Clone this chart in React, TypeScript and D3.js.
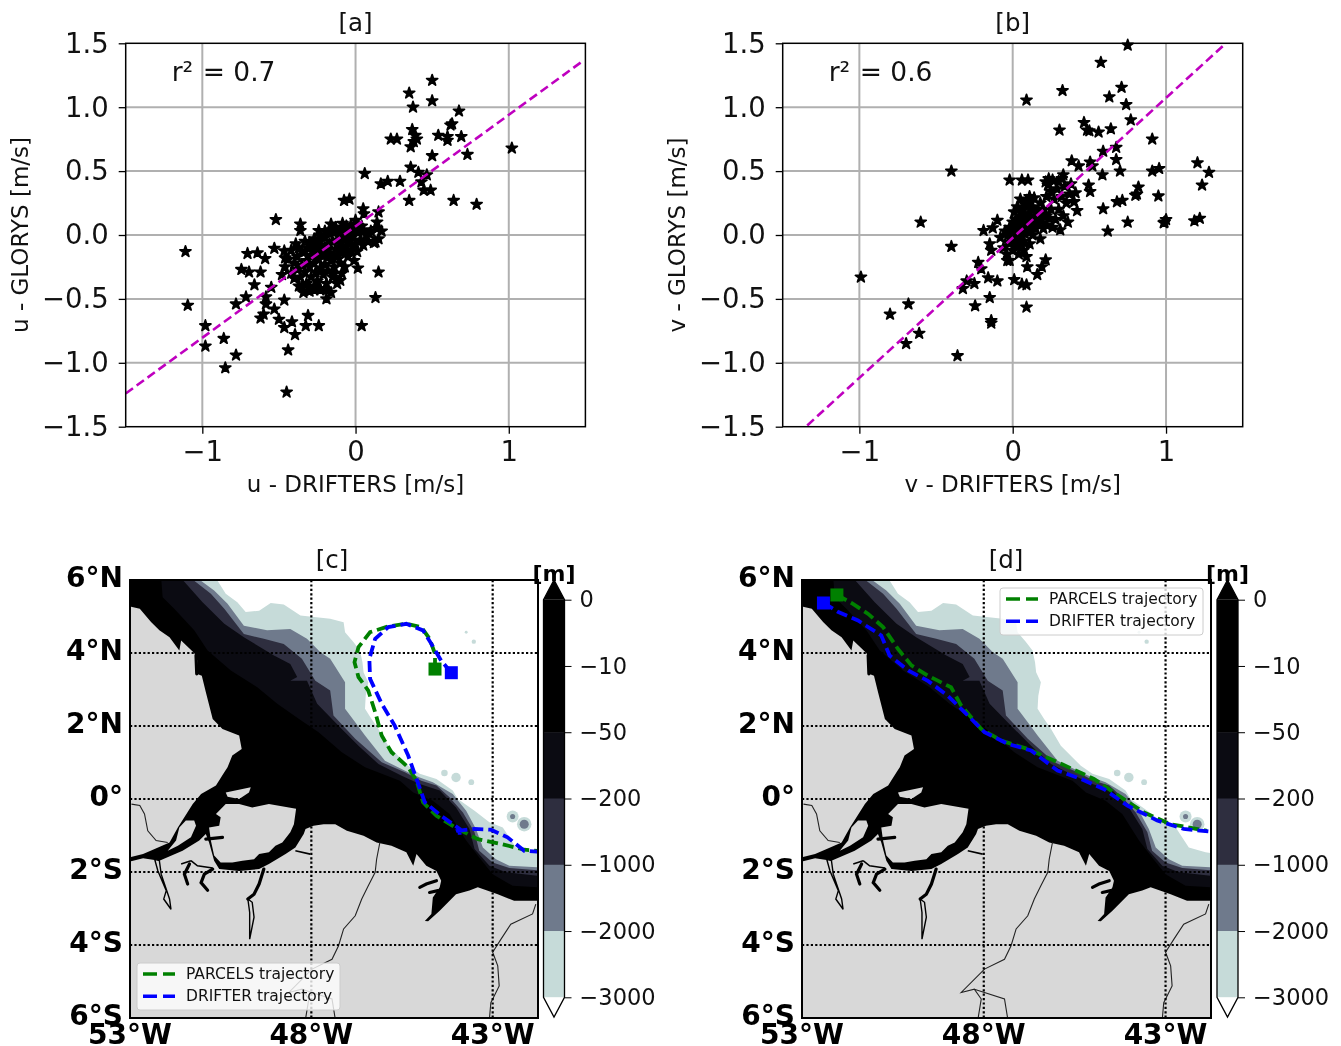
import { useEffect, useRef } from "react";
import * as d3 from "d3";

type Pt = [number, number];

// scatter values: [drifter, glorys] in m/s
const uPoints: Pt[] = [
  [-1.11,-0.13],[-1.095,-0.55],[-0.98,-0.71],[-0.98,-0.87],[-0.86,-0.81],[-0.78,-0.94],[-0.85,-1.04],[-0.45,-1.23],[-0.44,-0.9],[-0.78,-0.54],
  [0.04,-0.71],[0.13,-0.49],[0.15,-0.29],[0.015,-0.26],[-0.52,0.12],[-0.24,-0.71],[-0.31,-0.63],[-0.325,-0.71],[-0.395,-0.78],[-0.415,-0.68],
  [-0.465,-0.725],[-0.5,-0.66],[-0.62,-0.65],[-0.6,-0.62],[-0.53,-0.58],[-0.585,-0.54],[-0.585,-0.485],[-0.465,-0.51],[-0.715,-0.485],[-0.66,-0.39],
  [-0.62,-0.29],[-0.745,-0.27],[-0.695,-0.29],[-0.705,-0.145],[-0.64,-0.14],[-0.59,-0.185],[-0.53,-0.105],[-0.465,-0.125],[-0.36,0.085],[-0.36,0.035],
  [-0.39,-0.07],[-0.55,-0.41],[0.5,1.21],[0.35,1.11],[0.5,1.05],[0.375,1.0],[0.675,0.97],[0.63,0.87],[0.62,0.86],[0.37,0.825],
  [0.39,0.78],[0.4,0.75],[0.38,0.73],[0.36,0.69],[0.23,0.75],[0.27,0.75],[0.54,0.78],[0.6,0.77],[0.6,0.74],[0.69,0.77],
  [0.5,0.62],[0.73,0.63],[1.02,0.68],[0.36,0.53],[0.41,0.49],[0.465,0.47],[0.43,0.415],[0.445,0.35],[0.49,0.35],[0.35,0.27],
  [0.64,0.27],[0.79,0.24],[0.06,0.48],[0.165,0.4],[0.21,0.42],[0.29,0.42],[-0.075,0.27],[-0.04,0.28],[0.05,0.205],[0.055,0.165],
  [0.15,0.18],[0.14,0.1],[0.14,0.05],[0.17,0.03],[0.13,-0.055],[0.15,-0.03],[0,0.115],[-0.085,0.09],[-0.16,0.085],[-0.24,0.035],
  [-0.46,-0.25],[-0.48,-0.31],[-0.44,-0.19],[-0.42,-0.3],[-0.4,-0.22],[-0.4,-0.34],[-0.38,-0.27],[-0.38,-0.17],[-0.37,-0.4],[-0.36,-0.33],
  [-0.35,-0.24],[-0.35,-0.13],[-0.34,-0.45],[-0.33,-0.29],[-0.32,-0.2],[-0.32,-0.38],[-0.31,-0.1],[-0.3,-0.25],[-0.3,-0.42],[-0.29,-0.33],
  [-0.29,-0.16],[-0.28,-0.07],[-0.27,-0.22],[-0.27,-0.4],[-0.26,-0.29],[-0.25,-0.12],[-0.25,-0.36],[-0.24,-0.19],[-0.24,-0.04],[-0.23,-0.26],
  [-0.23,-0.42],[-0.22,-0.1],[-0.21,-0.31],[-0.21,-0.16],[-0.2,-0.02],[-0.2,-0.23],[-0.19,-0.38],[-0.18,-0.08],[-0.18,-0.28],[-0.17,-0.14],
  [-0.17,0.01],[-0.16,-0.2],[-0.16,-0.45],[-0.15,-0.33],[-0.15,-0.05],[-0.14,-0.25],[-0.13,-0.11],[-0.13,0.03],[-0.12,-0.17],[-0.12,-0.38],
  [-0.11,-0.01],[-0.1,-0.22],[-0.1,-0.07],[-0.09,-0.3],[-0.09,0.06],[-0.08,-0.13],[-0.07,-0.02],[-0.07,-0.25],[-0.06,-0.09],[-0.05,0.04],
  [-0.05,-0.17],[-0.04,-0.05],[-0.03,0.08],[-0.03,-0.12],[-0.02,0],[-0.01,-0.2],[0,-0.07],[0,0.04],[0.01,-0.13],[0.02,0.02],
  [0.03,-0.04],[0.04,0.07],[0.05,-0.08],[0.07,0],[0.08,-0.05],[0.1,0.03],[0.12,-0.06],[-0.27,-0.43],[-0.23,-0.43],[-0.19,-0.43],
  [-0.19,-0.5],[-0.1,-0.355],[-0.14,-0.3],[-0.3,-0.44],[-0.35,-0.4],
  [-0.33,-0.05],[-0.3,-0.06],[-0.27,-0.03],[-0.23,-0.01],[-0.2,0.03],[-0.16,0.04],[-0.13,0.06],[-0.09,0.03],[-0.06,0.07],[-0.02,0.05],
  [0.02,0.07],[0.05,0.04],[0.09,0.01],[-0.28,-0.13],[-0.24,-0.09],[-0.2,-0.1],[-0.17,-0.07],[-0.12,-0.04],[-0.09,-0.1],[-0.06,-0.03],
  [-0.03,-0.01],[-0.26,-0.18],[-0.22,-0.16],[-0.18,-0.17],[-0.14,-0.16],[-0.11,-0.12],[-0.07,-0.15],[-0.33,-0.13],[-0.37,-0.1],[-0.42,-0.12],[-0.46,-0.18],
];

const vPoints: Pt[] = [
  [-0.99,-0.33],[-0.8,-0.62],[-0.68,-0.54],[-0.61,-0.77],[-0.695,-0.85],[-0.36,-0.945],[-0.6,0.1],[-0.4,0.5],[-0.4,-0.09],[0.09,1.055],
  [0.325,1.13],[0.575,1.35],[0.75,1.485],[0.71,1.155],[0.63,1.08],[0.74,1.02],[0.77,0.9],[0.305,0.82],[0.465,0.88],[0.485,0.82],
  [0.5,0.815],[0.56,0.805],[0.64,0.83],[0.91,0.75],[0.59,0.655],[0.675,0.685],[0.675,0.59],[0.385,0.58],[0.43,0.54],[0.505,0.57],
  [0.52,0.54],[0.585,0.47],[0.7,0.5],[0.91,0.5],[0.955,0.52],[1.205,0.565],[1.28,0.49],[1.235,0.39],[1.185,0.11],[1.22,0.13],
  [0.99,0.1],[1.0,0.12],[0.985,0.095],[0.95,0.305],[0.82,0.375],[0.81,0.32],[0.8,0.31],[0.68,0.26],[0.715,0.27],[0.59,0.205],
  [0.75,0.1],[0.62,0.03],[0.495,0.39],[0.505,0.34],[0.42,0.19],[0.41,0.33],[0.33,0.47],[0.235,0.44],[0.215,0.415],[-0.02,0.43],
  [0.06,0.43],[0.1,0.43],[-0.1,0.115],[-0.19,0.035],[-0.13,0.055],[-0.15,-0.07],[-0.14,-0.12],[-0.225,-0.215],[-0.205,-0.265],[-0.16,-0.335],
  [-0.1,-0.36],[-0.25,-0.38],[-0.3,-0.36],[-0.325,-0.42],[-0.15,-0.49],[-0.245,-0.555],[-0.14,-0.67],[-0.14,-0.69],[0.01,-0.35],[0.06,-0.385],
  [0.09,-0.39],[0.09,-0.565],[0.16,-0.31],[0.19,-0.25],[0.215,-0.195],[0.095,-0.25],[-0.035,-0.2],
  [-0.08,-0.02],[-0.06,-0.1],[-0.05,0.03],[-0.04,-0.15],[-0.03,-0.06],[-0.02,0.06],[-0.02,-0.2],[-0.01,-0.03],[0,0.1],[0,-0.12],
  [0.01,0.02],[0.01,0.18],[0.02,-0.07],[0.03,0.07],[0.03,0.22],[0.04,-0.15],[0.04,0],[0.05,0.13],[0.05,0.28],[0.06,-0.05],
  [0.06,0.05],[0.07,0.2],[0.07,-0.12],[0.08,0.1],[0.08,0.01],[0.09,0.27],[0.09,-0.17],[0.1,0.15],[0.1,0.05],[0.11,0.3],
  [0.11,-0.07],[0.12,0.09],[0.12,0.2],[0.13,0],[0.14,0.13],[0.14,0.29],[0.15,0.05],[0.16,0.18],[0.17,0.09],[0.18,-0.03],
  [0.18,0.25],[0.19,0.12],[0.2,0.05],[0.21,0.16],[0.22,0.3],[0.22,0.08],[0.23,0.39],[0.24,0.13],[0.25,0.2],[0.26,0.43],
  [0.26,0.06],[0.27,0.28],[0.28,0.12],[0.29,0.36],[0.3,0.2],[0.31,0.04],[0.32,0.44],[0.32,0.3],[0.33,0.15],[0.34,0.38],
  [0.35,0.25],[0.36,0.1],[0.37,0.32],[0.38,0.4],[0.3,0.42],[0.4,0.26],[0.25,0.34],
  [0.02,0.03],[0.04,0.09],[0.06,0.12],[0.08,0.16],[0.1,0.1],[0.12,0.14],[0.14,0.08],[0.16,0.12],[0.18,0.16],[0.2,0.2],
  [0.22,0.15],[0.03,-0.03],[0.06,0],[0.09,0.04],[0.11,0.02],[0.13,0.06],[0.15,0.1],[0.0,0.02],[-0.03,0],[0.01,-0.05],
  [0.04,-0.09],[0.07,-0.05],[0.02,0.12],[0.05,0.18],[0.08,0.24],[0.11,0.25],[0.13,0.22],
];

const uFit: Pt[] = [[-1.5,-1.24],[1.47,1.35]];
const vFit: Pt[] = [[-1.34,-1.49],[1.39,1.5]];

const scatterTicksX = [-1, 0, 1];
const scatterTicksY = [-1.5, -1, -0.5, 0, 0.5, 1, 1.5];

// bathymetry contours, lon/lat, each one closed round the south west corner
const contour3000: Pt[] = [[-50.63,6.05],[-50.36,5.62],[-50.04,5.39],[-49.81,5.12],[-49.44,5.16],[-49.12,5.37],[-48.76,5.33],[-48.30,5.03],[-47.48,4.94],[-47.11,4.84],[-47.07,4.57],[-46.84,4.30],[-46.66,4.07],[-46.59,3.75],[-46.56,3.47],[-46.43,3.20],[-46.50,2.83],[-46.52,2.47],[-46.34,2.19],[-46.15,1.92],[-45.88,1.46],[-45.33,0.91],[-45.01,0.69],[-44.55,0.55],[-44.10,0.23],[-43.96,0],[-43.5,-0.32],[-43.09,-0.64],[-42.72,-0.78],[-42.36,-1.33],[-41.90,-1.46],[-41.77,-1.48],[-41.6,-1.5]];
const contour2000: Pt[] = [[-51.14,6.05],[-50.68,5.71],[-50.31,5.35],[-49.86,4.75],[-49.22,4.62],[-48.58,4.66],[-48.12,4.39],[-47.75,4.02],[-47.48,3.84],[-47.07,3.20],[-47.07,2.47],[-46.79,2.10],[-46.52,1.74],[-45.97,1.05],[-45.33,0.73],[-45.01,0.59],[-44.65,0.46],[-44.10,0.14],[-43.73,-0.32],[-43.46,-0.82],[-43.27,-1.33],[-42.91,-1.65],[-42.54,-1.83],[-41.77,-1.87],[-41.6,-1.88]];
const contour1000: Pt[] = [[-51.32,6.05],[-50.77,5.62],[-50.40,5.21],[-49.86,4.52],[-49.31,4.39],[-48.76,4.25],[-48.26,3.84],[-47.89,3.24],[-47.48,2.97],[-47.39,2.29],[-46.79,1.65],[-46.06,1.01],[-45.42,0.73],[-44.97,0.50],[-44.55,0.37],[-44.19,0.05],[-43.82,-0.37],[-43.50,-0.91],[-43.37,-1.42],[-43.0,-1.74],[-42.54,-1.89],[-41.77,-1.95],[-41.6,-1.96]];
const contour200: Pt[] = [[-51.59,6.05],[-51.0,5.39],[-50.40,4.80],[-49.86,4.43],[-49.03,3.93],[-48.58,3.70],[-48.39,3.34],[-48.58,3.24],[-48.12,3.24],[-47.84,2.61],[-47.25,2.01],[-46.70,1.46],[-46.15,0.96],[-45.51,0.64],[-45.01,0.41],[-44.46,0.23],[-44.01,-0.23],[-43.64,-0.82],[-43.50,-1.37],[-43.09,-1.83],[-42.63,-2.01],[-41.77,-2.10],[-41.6,-2.12]];
const contour50: Pt[] = [[-52.14,6.05],[-52.10,5.53],[-51.78,5.21],[-51.23,4.62],[-50.86,4.07],[-50.22,3.52],[-49.49,3.06],[-48.94,2.61],[-48.35,2.20],[-47.80,1.83],[-47.16,1.28],[-46.52,0.87],[-45.56,0.50],[-45.19,0.18],[-44.65,-0.05],[-44.19,-0.41],[-43.73,-1.14],[-43.37,-1.60],[-43.0,-2.06],[-42.45,-2.38],[-41.77,-2.42],[-41.6,-2.44]];
const contourCorners: Pt[] = [[-41.6,-6.1],[-53.1,-6.1],[-53.1,6.05]];

// isolated seamounts: lon, lat, radius in degrees
const shallowBlobs = [[-44.33,0.71,0.09],[-44.01,0.59,0.13],[-43.59,0.46,0.08],[-42.45,-0.48,0.165],[-42.13,-0.69,0.2],[-43.73,4.57,0.04],[-43.52,4.31,0.06]];
const deepBlobs = [[-42.45,-0.48,0.07],[-42.13,-0.69,0.125]];

const landNorth: Pt[] = [[-53.1,5.30],[-52.73,5.21],[-52.42,4.85],[-52.19,4.62],[-51.91,4.43],[-51.64,4.07],[-51.59,4.34],[-51.23,4.0],[-51.14,3.79],[-51.16,3.43],[-51.02,3.38],[-50.91,2.93],[-50.72,2.19],[-50.45,1.92],[-49.99,1.74],[-49.92,1.37],[-50.18,1.19],[-50.31,0.87],[-50.40,0.73],[-50.63,0.37],[-51.04,0.14],[-51.27,-0.14],[-51.68,-0.78],[-51.91,-1.19],[-52.32,-1.37],[-52.64,-1.51],[-53.1,-1.62]];
const landMarajo: Pt[] = [[-50.63,-0.41],[-50.36,-0.14],[-49.99,-0.14],[-49.63,-0.23],[-49.17,-0.14],[-48.42,-0.27],[-48.48,-0.69],[-48.58,-0.91],[-48.80,-1.19],[-48.99,-1.28],[-49.17,-1.46],[-49.44,-1.51],[-49.58,-1.65],[-49.90,-1.69],[-50.18,-1.74],[-50.50,-1.74],[-50.68,-1.55],[-50.77,-1.14],[-50.82,-0.78],[-50.54,-0.73],[-50.50,-0.50]];
const landIsle: Pt[] = [[-50.36,0.18],[-49.67,0.32],[-49.72,0.18],[-49.99,0],[-50.31,0.06]];
const landSliver: Pt[] = [[-51.23,-0.59],[-51.18,-0.73],[-51.32,-1.05],[-51.68,-1.28],[-51.96,-1.42],[-51.73,-1.14],[-51.64,-0.78],[-51.46,-0.59]];
const landSouth: Pt[] = [[-53.1,-1.74],[-52.64,-1.62],[-52.19,-1.69],[-51.55,-1.42],[-51.09,-1.14],[-50.91,-0.96],[-50.82,-1.19],[-50.68,-1.69],[-50.54,-1.92],[-49.99,-1.97],[-49.44,-1.92],[-49.17,-1.78],[-48.71,-1.51],[-48.44,-1.33],[-48.21,-0.96],[-48.16,-0.82],[-47.94,-0.73],[-47.66,-0.69],[-47.34,-0.69],[-47.02,-0.87],[-46.56,-1.01],[-46.20,-1.19],[-45.79,-1.28],[-45.38,-1.46],[-45.19,-1.83],[-45.10,-1.51],[-44.83,-1.83],[-44.55,-1.97],[-44.42,-2.24],[-44.46,-2.42],[-44.65,-2.70],[-44.69,-3.15],[-44.87,-3.34],[-44.78,-3.35],[-44.46,-3.06],[-44.01,-2.61],[-43.64,-2.51],[-43.41,-2.42],[-42.86,-2.61],[-42.41,-2.79],[-41.6,-2.79],[-41.6,-6.1],[-53.1,-6.1]];

// rivers
const riverThick: Pt[][] = [
  [[-51.18,3.93],[-51.16,3.43]],
  [[-50.91,-1.10],[-50.45,-1.05]],
  [[-51.36,-1.78],[-51.50,-2.06],[-51.41,-2.33]],
  [[-50.72,-1.92],[-50.95,-2.06],[-51.04,-2.29],[-50.86,-2.50]],
  [[-49.31,-1.92],[-49.44,-2.33],[-49.58,-2.61],[-49.75,-2.74]],
  [[-45.01,-2.42],[-44.83,-2.33],[-44.55,-2.24]],
  [[-44.74,-2.56],[-44.51,-2.51]],
];
const riverThin: Pt[][] = [
  [[-48.44,-1.42],[-48.03,-1.51]],
  [[-51.59,-1.78],[-51.32,-1.69]],
  [[-51.32,-1.69],[-51.14,-1.83],[-50.72,-1.89]],
];
const riverTocantins: Pt[] = [[-49.75,-2.74],[-49.70,-3.11],[-49.70,-3.84],[-49.58,-3.24],[-49.63,-2.83]];
const riverXingu: Pt[] = [[-52.32,-1.65],[-52.23,-1.97],[-52.0,-2.51],[-52.07,-2.74],[-51.87,-3.02],[-51.91,-2.74],[-52.14,-2.06],[-52.19,-1.69]];

const borders: Pt[][] = [
  [[-52.96,-0.14],[-52.73,-0.18],[-52.60,-0.41],[-52.51,-0.87],[-52.28,-1.14],[-51.96,-1.19]],
  [[-46.11,-1.19],[-46.20,-1.65],[-46.24,-2.01],[-46.43,-2.38],[-46.61,-2.74],[-46.79,-3.20],[-47.11,-3.56],[-47.25,-4.02],[-47.43,-4.39],[-47.98,-4.66],[-48.62,-5.30],[-48.26,-5.21],[-48.07,-5.48],[-48.16,-6.03]],
  [[-48.26,-5.21],[-47.43,-5.48],[-47.34,-6.03]],
  [[-41.81,-2.88],[-41.90,-3.15],[-42.50,-3.43],[-42.77,-3.84],[-43.0,-4.20],[-42.86,-4.57],[-42.82,-5.12],[-43.05,-5.58],[-43.09,-6.03]],
];

// trajectories in lon/lat, first point is the release position
const parcelsC: Pt[] = [[-44.59,3.56],[-44.59,3.98],[-44.74,4.39],[-44.97,4.71],[-45.38,4.80],[-45.88,4.73],[-46.38,4.57],[-46.70,4.16],[-46.81,3.75],[-46.70,3.34],[-46.43,2.97],[-46.24,2.38],[-46.06,1.74],[-45.79,1.28],[-45.33,0.87],[-45.10,0.50],[-44.92,-0.09],[-44.55,-0.46],[-43.96,-0.82],[-43.41,-1.10],[-42.77,-1.23],[-42.13,-1.39],[-41.77,-1.42]];
const drifterC: Pt[] = [[-44.14,3.46],[-44.42,3.79],[-44.69,4.25],[-44.92,4.62],[-45.38,4.80],[-45.88,4.71],[-46.24,4.39],[-46.40,3.84],[-46.38,3.29],[-46.06,2.61],[-45.70,2.01],[-45.33,1.19],[-45.10,0.55],[-44.87,-0.09],[-44.42,-0.46],[-43.91,-0.82],[-43.91,-1.01],[-43.96,-0.87],[-43.50,-0.82],[-43.05,-0.84],[-42.59,-1.05],[-42.13,-1.42],[-41.77,-1.44]];
const parcelsD: Pt[] = [[-52.04,5.59],[-51.64,5.37],[-51.18,5.07],[-50.77,4.71],[-50.36,4.11],[-49.99,3.66],[-49.54,3.38],[-48.90,3.06],[-48.62,2.56],[-48.07,1.92],[-47.52,1.60],[-46.79,1.37],[-46.06,1.05],[-44.97,0.55],[-44.23,0.05],[-43.59,-0.37],[-42.86,-0.69],[-41.86,-0.87]];
const drifterD: Pt[] = [[-52.41,5.37],[-52.0,5.12],[-51.46,4.89],[-50.82,4.48],[-50.59,3.93],[-50.08,3.52],[-49.54,3.24],[-48.99,2.83],[-48.53,2.38],[-47.98,1.83],[-47.34,1.51],[-46.70,1.33],[-45.97,0.78],[-45.33,0.55],[-44.69,0.27],[-44.05,-0.18],[-43.23,-0.59],[-42.50,-0.82],[-41.81,-0.89]];

const latTicks = [6, 4, 2, 0, -2, -4, -6];
const latLabels = ["6°N", "4°N", "2°N", "0°", "2°S", "4°S", "6°S"];
const lonTicks = [-53, -48, -43];
const lonLabels = ["53°W", "48°W", "43°W"];
const depthLabels = ["0", "−10", "−50", "−200", "−1000", "−2000", "−3000"];
const depthColors = ["#000000", "#000000", "#0b0b12", "#2e2e3f", "#6f7a8c", "#c6dbd9"];

const FONT = "DejaVu Sans";
const minus = (s: string) => s.replace("-", "−");

function drawScatter(svg: any, o: any) {
  const x = d3.scaleLinear().domain([-1.5, 1.5]).range(o.xRange);
  const y = d3.scaleLinear().domain([-1.5, 1.5]).range([426.7, 43.3]);
  const g = svg.append("g").attr("font-family", FONT);

  // grid
  g.selectAll(".gx").data(scatterTicksX).join("line")
    .attr("x1", (d: number) => x(d)).attr("x2", (d: number) => x(d))
    .attr("y1", y(-1.5)).attr("y2", y(1.5))
    .attr("stroke", "#b0b0b0").attr("stroke-width", 2);
  g.selectAll(".gy").data(scatterTicksY.slice(1, -1)).join("line")
    .attr("class", "gy")
    .attr("x1", o.xRange[0]).attr("x2", o.xRange[1])
    .attr("y1", (d: number) => y(d)).attr("y2", (d: number) => y(d))
    .attr("stroke", "#b0b0b0").attr("stroke-width", 2);

  const star = d3.symbol().type(d3.symbolStar).size(38);
  g.selectAll(".pt").data(o.points).join("path")
    .attr("class", "pt")
    .attr("d", star)
    .attr("transform", (d: Pt) => `translate(${x(d[0])},${y(d[1])})`)
    .attr("fill", "#000").attr("stroke", "#000").attr("stroke-width", 1.7).attr("stroke-linejoin", "round");

  const fit = d3.line<Pt>().x((d) => x(d[0])).y((d) => y(d[1]));
  g.append("path").attr("d", fit(o.fit))
    .attr("fill", "none").attr("stroke", "#bf00bf")
    .attr("stroke-width", 2.6).attr("stroke-dasharray", "9,4.5");

  g.append("rect").attr("x", o.xRange[0]).attr("y", y(1.5))
    .attr("width", o.xRange[1] - o.xRange[0]).attr("height", y(-1.5) - y(1.5))
    .attr("fill", "none").attr("stroke", "#000").attr("stroke-width", 1.5);

  const ax = g.append("g").attr("transform", `translate(0,${y(-1.5)})`)
    .call(d3.axisBottom(x).tickValues(scatterTicksX).tickSize(7).tickPadding(8).tickFormat((d: any) => minus(String(d))));
  const ay = g.append("g").attr("transform", `translate(${o.xRange[0]},0)`)
    .call(d3.axisLeft(y).tickValues(scatterTicksY).tickSize(7).tickPadding(10).tickFormat((d: any) => minus(d3.format(".1f")(d))));
  [ax, ay].forEach((a: any) => {
    a.select(".domain").remove();
    a.attr("font-family", FONT).attr("font-size", 27.5);
    a.selectAll(".tick line").attr("stroke-width", 1.3);
    a.selectAll("text").attr("fill", "#111");
  });

  const midX = (o.xRange[0] + o.xRange[1]) / 2;
  g.append("text").attr("x", midX).attr("y", 31).attr("text-anchor", "middle").attr("font-size", 24.5).attr("fill", "#111").text(o.title);
  g.append("text").attr("x", midX).attr("y", 492).attr("text-anchor", "middle").attr("font-size", 23).attr("fill", "#111").text(o.xLabel);
  g.append("text").attr("transform", `translate(${o.xRange[0] - 98},235) rotate(-90)`).attr("text-anchor", "middle").attr("font-size", 23).attr("fill", "#111").text(o.yLabel);

  const r = g.append("text").attr("y", 81).attr("font-size", 26.5).attr("fill", "#111");
  r.append("tspan").attr("x", o.xRange[0] + 46).text("r²");
  r.append("tspan").attr("x", o.xRange[0] + 77).text(o.r2);
}

function drawMap(svg: any, o: any) {
  const x = d3.scaleLinear().domain([-53, -41.75]).range(o.xRange);
  const y = d3.scaleLinear().domain([6, -6]).range([580, 1018]);
  const line = d3.line<Pt>().x((d) => x(d[0])).y((d) => y(d[1]));
  const closed = (pts: Pt[]) => line(pts) + "Z";
  const LAND = "#d8d8d8";

  const g = svg.append("g").attr("font-family", FONT);
  g.append("clipPath").attr("id", o.id).append("rect")
    .attr("x", o.xRange[0]).attr("y", 580)
    .attr("width", o.xRange[1] - o.xRange[0]).attr("height", 438);
  const m = g.append("g").attr("clip-path", `url(#${o.id})`);

  m.append("rect").attr("x", o.xRange[0]).attr("y", 580)
    .attr("width", o.xRange[1] - o.xRange[0]).attr("height", 438).attr("fill", "#fff");

  const bands: [Pt[], string][] = [
    [contour3000, depthColors[5]], [contour2000, depthColors[4]], [contour1000, depthColors[3]],
    [contour200, depthColors[2]], [contour50, depthColors[0]],
  ];
  const k = x(-52) - x(-53);
  m.selectAll(".sb").data(shallowBlobs).join("circle").attr("class", "sb")
    .attr("cx", (d: number[]) => x(d[0])).attr("cy", (d: number[]) => y(d[1])).attr("r", (d: number[]) => d[2] * k)
    .attr("fill", depthColors[5]);
  m.selectAll(".db").data(deepBlobs).join("circle").attr("class", "db")
    .attr("cx", (d: number[]) => x(d[0])).attr("cy", (d: number[]) => y(d[1])).attr("r", (d: number[]) => d[2] * k)
    .attr("fill", depthColors[4]);
  bands.forEach(([pts, c]) => {
    m.append("path").attr("d", closed(pts.concat(contourCorners))).attr("fill", c);
  });

  [landNorth, landMarajo, landIsle, landSliver, landSouth].forEach((pts) => {
    m.append("path").attr("d", closed(pts)).attr("fill", LAND);
  });

  riverThick.forEach((pts) => {
    m.append("path").attr("d", line(pts)).attr("fill", "none").attr("stroke", "#000").attr("stroke-width", 3.2).attr("stroke-linecap", "round");
  });
  riverThin.forEach((pts) => {
    m.append("path").attr("d", line(pts)).attr("fill", "none").attr("stroke", "#000").attr("stroke-width", 1.6);
  });
  [riverTocantins, riverXingu].forEach((pts) => {
    m.append("path").attr("d", closed(pts)).attr("fill", LAND).attr("stroke", "#000").attr("stroke-width", 1.4);
  });
  borders.forEach((pts) => {
    m.append("path").attr("d", line(pts)).attr("fill", "none").attr("stroke", "#222").attr("stroke-width", 1.1);
  });

  // graticule
  latTicks.slice(1, -1).forEach((d) => {
    m.append("line").attr("x1", o.xRange[0]).attr("x2", o.xRange[1]).attr("y1", y(d)).attr("y2", y(d))
      .attr("stroke", "#000").attr("stroke-width", 2.2).attr("stroke-dasharray", "2.2,2.2");
  });
  lonTicks.slice(1).forEach((d) => {
    m.append("line").attr("x1", x(d)).attr("x2", x(d)).attr("y1", 580).attr("y2", 1018)
      .attr("stroke", "#000").attr("stroke-width", 2.2).attr("stroke-dasharray", "2.2,2.2");
  });

  // trajectories
  const tracks: [Pt[], string][] = [[o.parcels, "#008000"], [o.drifter, "#0000ff"]];
  tracks.forEach(([pts, c]) => {
    m.append("path").attr("d", line(pts)).attr("fill", "none").attr("stroke", c)
      .attr("stroke-width", 3.8).attr("stroke-dasharray", "11,5");
    m.append("rect").attr("x", x(pts[0][0]) - 6.5).attr("y", y(pts[0][1]) - 6.5)
      .attr("width", 13).attr("height", 13).attr("fill", c);
  });

  g.append("rect").attr("x", o.xRange[0]).attr("y", 580)
    .attr("width", o.xRange[1] - o.xRange[0]).attr("height", 438)
    .attr("fill", "none").attr("stroke", "#000").attr("stroke-width", 2);

  // legend
  const lg = g.append("g").attr("transform", `translate(${o.legend[0]},${o.legend[1]})`);
  lg.append("rect").attr("width", 203).attr("height", 47).attr("rx", 3)
    .attr("fill", "#fff").attr("fill-opacity", 0.8).attr("stroke", "#ccc");
  ["PARCELS trajectory", "DRIFTER trajectory"].forEach((t, i) => {
    lg.append("line").attr("x1", 6).attr("x2", 38).attr("y1", 11 + i * 22.3).attr("y2", 11 + i * 22.3)
      .attr("stroke", i ? "#0000ff" : "#008000").attr("stroke-width", 3.6).attr("stroke-dasharray", "14,6");
    lg.append("text").attr("x", 49).attr("y", 16 + i * 22.3).attr("font-size", 15.5).attr("fill", "#111").text(t);
  });

  // lat lon labels
  g.selectAll(".lat").data(latTicks).join("text").attr("class", "lat")
    .attr("x", o.xRange[0] - 7).attr("y", (d: number) => y(d) - 2.5).attr("dy", "0.35em")
    .attr("text-anchor", "end").attr("font-size", 28).attr("font-weight", "bold").attr("fill", "#000")
    .text((_: number, i: number) => latLabels[i]);
  g.selectAll(".lon").data(lonTicks).join("text").attr("class", "lon")
    .attr("x", (d: number) => x(d)).attr("y", 1044)
    .attr("text-anchor", "middle").attr("font-size", 28).attr("font-weight", "bold").attr("fill", "#000")
    .text((_: number, i: number) => lonLabels[i]);
  g.append("text").attr("x", o.titleX).attr("y", 568).attr("text-anchor", "middle").attr("font-size", 24.5).attr("fill", "#111").text(o.title);

  // colour bar
  const cb = g.append("g");
  const [c0, c1] = o.barX;
  const cy = d3.scalePoint<string>().domain(depthLabels).range([599.7, 997.3]);
  depthColors.forEach((c, i) => {
    cb.append("rect").attr("x", c0).attr("width", c1 - c0)
      .attr("y", cy(depthLabels[i])!).attr("height", cy(depthLabels[i + 1])! - cy(depthLabels[i])! + 0.5)
      .attr("fill", c);
  });
  const mid = (c0 + c1) / 2;
  const tri = d3.line();
  cb.append("path").attr("d", tri([[c0, 599.7], [mid, 580], [c1, 599.7]]) + "Z").attr("fill", "#000");
  cb.append("path").attr("d", tri([[c0, 997.3], [mid, 1017], [c1, 997.3]]) + "Z").attr("fill", "#fff");
  cb.append("path").attr("d", tri([[c0, 599.7], [mid, 580], [c1, 599.7], [c1, 997.3], [mid, 1017], [c0, 997.3]]) + "Z")
    .attr("fill", "none").attr("stroke", "#000").attr("stroke-width", 1.3);
  const bar = cb.append("g").attr("transform", `translate(${c1},0)`)
    .call(d3.axisRight(cy).tickSize(7).tickPadding(8));
  bar.select(".domain").remove();
  bar.attr("font-family", FONT).attr("font-size", 22.5);
  bar.selectAll("text").attr("fill", "#111");
  g.append("text").attr("x", mid).attr("y", 581).attr("text-anchor", "middle").attr("font-size", 22).attr("font-weight", "bold").attr("fill", "#000").text("[m]");
}

export default function App() {
  const ref = useRef<SVGSVGElement>(null);

  useEffect(() => {
    const svg = d3.select(ref.current);
    svg.selectAll("*").remove();

    drawScatter(svg, { xRange: [125.7, 585.4], points: uPoints, fit: uFit, title: "[a]", xLabel: "u - DRIFTERS [m/s]", yLabel: "u - GLORYS [m/s]", r2: "= 0.7" });
    drawScatter(svg, { xRange: [782.7, 1242.7], points: vPoints, fit: vFit, title: "[b]", xLabel: "v - DRIFTERS [m/s]", yLabel: "v - GLORYS [m/s]", r2: "= 0.6" });
    drawMap(svg, { id: "clipC", xRange: [130, 538], title: "[c]", titleX: 332, parcels: parcelsC, drifter: drifterC, legend: [137, 963], barX: [543.5, 564.5] });
    drawMap(svg, { id: "clipD", xRange: [802, 1211], title: "[d]", titleX: 1006, parcels: parcelsD, drifter: drifterD, legend: [1000, 588], barX: [1217, 1238] });
  }, []);

  return <svg ref={ref} width={1341} height={1046} style={{ position: "absolute", left: 0, top: 0, background: "#fff", filter: "blur(0.45px)" }} />;
}
